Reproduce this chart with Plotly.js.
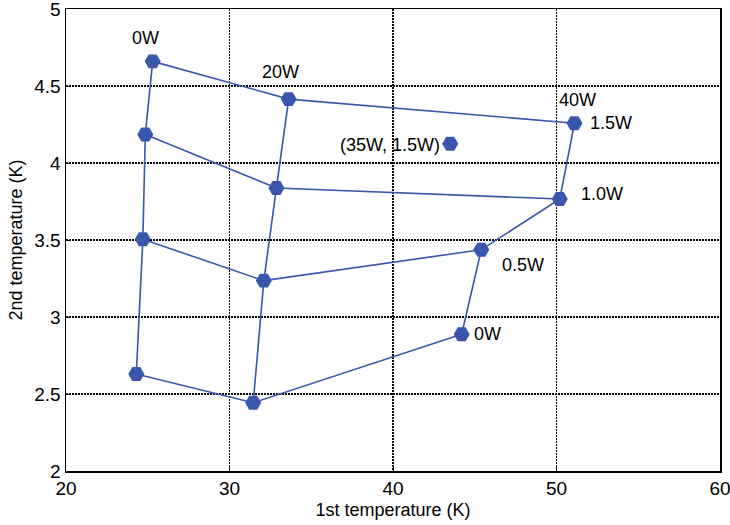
<!DOCTYPE html>
<html>
<head>
<meta charset="utf-8">
<script src="https://cdn.plot.ly/plotly-3.0.1.min.js"></script>
<style>html,body{margin:0;padding:0;background:#fff;}#chart{width:730px;height:525px;}</style>
</head>
<body>
<div id="chart"></div>
<script>
// Second-stage heat loads (rows) and first-stage heat loads (columns)
const secondLoads = ['0W', '0.5W', '1.0W', '1.5W'];
const firstLoads = ['0W', '20W', '40W'];

// 1st / 2nd stage temperatures for each first-stage load, ordered by secondLoads
const t1_0W  = [24.3, 24.7, 24.85, 25.3];
const t2_0W  = [2.63, 3.505, 4.185, 4.66];
const t1_20W = [31.45, 32.1, 32.87, 33.62];
const t2_20W = [2.443, 3.236, 3.838, 4.415];
const t1_40W = [44.2, 45.4, 50.2, 51.1];
const t2_40W = [2.888, 3.437, 3.766, 4.258];

// Extra single point (35W, 1.5W)
const t1_35W = [43.5];
const t2_35W = [4.125];

const cols = [[t1_0W, t2_0W], [t1_20W, t2_20W], [t1_40W, t2_40W]];
const blue = '#3b57ad';
const traces = [];

// lines along constant first-stage load
cols.forEach(([xs, ys]) => {
  traces.push({x: xs, y: ys, mode: 'lines', type: 'scatter',
    line: {color: blue, width: 1.6}, hoverinfo: 'skip', showlegend: false});
});
// lines along constant second-stage load
secondLoads.forEach((_, i) => {
  traces.push({x: cols.map(c => c[0][i]), y: cols.map(c => c[1][i]), mode: 'lines', type: 'scatter',
    line: {color: blue, width: 1.6}, hoverinfo: 'skip', showlegend: false});
});
// markers
traces.push({
  x: [].concat(t1_0W, t1_20W, t1_40W, t1_35W),
  y: [].concat(t2_0W, t2_20W, t2_40W, t2_35W),
  mode: 'markers', type: 'scatter',
  marker: {symbol: 'hexagon2', size: 16, color: blue, line: {width: 0}},
  showlegend: false
});

const fnt = {family: 'Liberation Sans, Arial, sans-serif', size: 18, color: '#000'};
const annotations = [
  {x: t1_0W[3], y: t2_0W[3], text: '0W', ax: -7, ay: -23},
  {x: t1_20W[3], y: t2_20W[3], text: '20W', ax: -8, ay: -27},
  {x: t1_40W[3], y: t2_40W[3], text: '40W', ax: 3, ay: -23},
  {x: t1_40W[3], y: t2_40W[3], text: '1.5W', ax: 37, ay: 0},
  {x: t1_40W[2], y: t2_40W[2], text: '1.0W', ax: 42, ay: -5},
  {x: t1_40W[1], y: t2_40W[1], text: '0.5W', ax: 42, ay: 15},
  {x: t1_40W[0], y: t2_40W[0], text: '0W', ax: 26, ay: 0},
  {x: t1_35W[0], y: t2_35W[0], text: '(35W, 1.5W)', ax: -60, ay: 1}
].map(a => Object.assign({xref: 'x', yref: 'y', showarrow: true, arrowcolor: 'rgba(0,0,0,0)', arrowwidth: 0.1, font: fnt}, a));

const axisCommon = {
  showline: true, mirror: true, linecolor: '#000', linewidth: 1.5,
  ticks: 'inside', ticklen: 5, tickcolor: '#000',
  showgrid: true, gridcolor: '#000', gridwidth: 1.2, griddash: '1.5px,1.5px',
  zeroline: false, ticklabeloverflow: 'allow',
  tickfont: {family: 'Liberation Sans, Arial, sans-serif', size: 19, color: '#000'}
};

const layout = {
  width: 730, height: 525,
  margin: {l: 66, r: 10, t: 9, b: 54},
  paper_bgcolor: '#fff', plot_bgcolor: '#fff',
  xaxis: Object.assign({}, axisCommon, {range: [20, 60], dtick: 10,
    title: {text: '1st temperature (K)', font: fnt, standoff: 5}}),
  yaxis: Object.assign({}, axisCommon, {range: [2, 5], dtick: 0.5,
    title: {text: '2nd temperature (K)', font: fnt, standoff: 7}}),
  annotations: annotations
};

Plotly.newPlot('chart', traces, layout, {displayModeBar: false, staticPlot: true});
</script>
</body>
</html>
